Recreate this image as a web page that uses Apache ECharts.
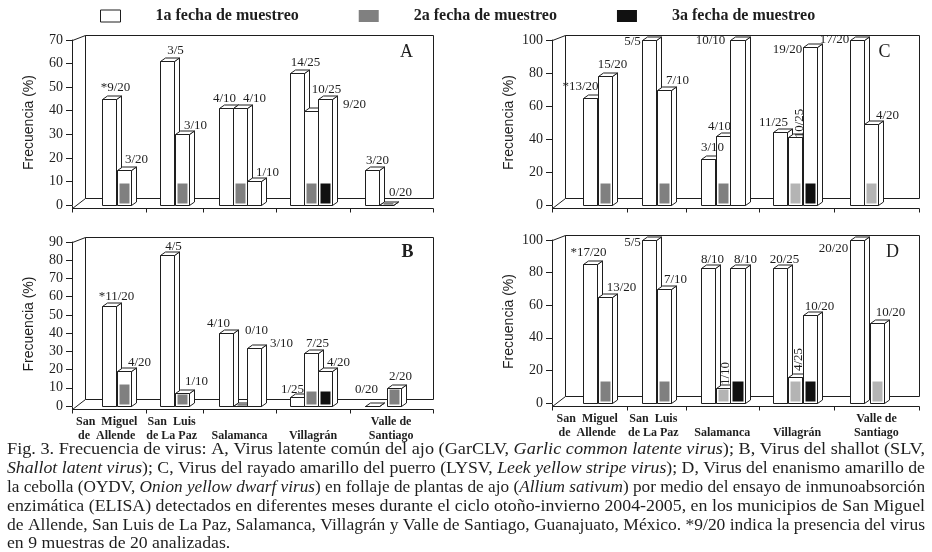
<!DOCTYPE html>
<html><head><meta charset="utf-8">
<script src="https://cdn.jsdelivr.net/npm/echarts@6/dist/echarts.min.js"></script>
<style>html,body{margin:0;padding:0;background:#fff}#c{width:932px;height:552px}</style>
</head><body><div id="c"></div>
<script>
// ---------- data ----------
const GROUPS = ['San  Miguel\nde  Allende', 'San  Luis\nde La Paz', '\nSalamanca', '\nVillagrán', 'Valle de\nSantiago'];
const LEGEND = ['1a fecha de muestreo', '2a fecha de muestreo', '3a fecha de muestreo'];
const Y_NAME = 'Frecuencia (%)';

// Panel A
const A_GROUP = [0,0,1,1,2,2,2,3,3,3,4,4];
const A_SLOT  = [0,1,0,1,0,1,2,0,1,2,0,1];
const A_MARK  = [0,1,0,1,0,1,0,0,1,2,0,1];
const A_VALUE = [45,15,61,30,41,41,10,56,40,45,15,0];
const A_LABEL = ['*9/20','3/20','3/5','3/10','4/10','4/10','1/10','14/25','10/25','9/20','3/20','0/20'];
const A_YMAX = 70, A_YSTEP = 10;

// Panel B
const B_GROUP = [0,0,1,1,2,2,2,3,3,3,4,4];
const B_SLOT  = [0,1,0,1,0,1,2,0,1,2,0,1];
const B_MARK  = [0,1,0,1,0,1,0,0,1,2,0,1];
const B_VALUE = [55,19,83,7,40,0,32,5,29,19,0,10];
const B_LABEL = ['*11/20','4/20','4/5','1/10','4/10','0/10','3/10','1/25','7/25','4/20','0/20','2/20'];
const B_YMAX = 90, B_YSTEP = 10;

// Panel C
const C_GROUP = [0,0,1,1,2,2,2,3,3,3,4,4];
const C_SLOT  = [0,1,0,1,0,1,2,0,1,2,0,1];
const C_MARK  = [0,1,0,1,0,1,0,0,3,2,0,3];
const C_VALUE = [65,78,100,70,28,42,100,44,41,96,100,49];
const C_LABEL = ['*13/20','15/20','5/5','7/10','3/10','4/10','10/10','11/25','10/25','19/20','17/20','4/20'];
const C_YMAX = 100, C_YSTEP = 20;

// Panel D
const D_GROUP = [0,0,1,1,2,2,2,3,3,3,4,4];
const D_SLOT  = [0,1,0,1,0,1,2,0,1,2,0,1];
const D_MARK  = [0,1,0,1,0,3,2,0,3,2,0,3];
const D_VALUE = [85,65,100,70,83,9,83,83,16,54,100,49];
const D_LABEL = ['*17/20','13/20','5/5','7/10','8/10','1/10','8/10','20/25','4/25','10/20','20/20','10/20'];
const D_YMAX = 100, D_YSTEP = 20;

const CAPTION = [
  [['n','Fig. 3. Frecuencia de virus: A, Virus latente común del ajo (GarCLV, '],['i','Garlic common latente virus'],['n','); B, Virus del shallot (SLV,']],
  [['i','Shallot latent virus'],['n','); C, Virus del rayado amarillo del puerro (LYSV, '],['i','Leek yellow stripe virus'],['n','); D, Virus del enanismo amarillo de']],
  [['n','la cebolla (OYDV, '],['i','Onion yellow dwarf virus'],['n',') en follaje de plantas de ajo ('],['i','Allium sativum'],['n',') por medio del ensayo de inmunoabsorción']],
  [['n','enzimática (ELISA) detectados en diferentes meses durante el ciclo otoño-invierno 2004-2005, en los municipios de San Miguel']],
  [['n','de Allende, San Luis de La Paz, Salamanca, Villagrán y Valle de Santiago, Guanajuato, México. *9/20 indica la presencia del virus']],
  [['n','en 9 muestras de 20 analizadas.']]
];

// ---------- layout / style ----------
const INK = '#1e1e1e';
const SERIF = '"Liberation Serif", "DejaVu Serif", serif';
const BAR_W = 0.97, BDX = 5, BDY = 3.5, WDX = 13, WDY = 5;
const GROUP_X = [2.1, 6.12, 10.15, 15.07, 20.27];
const TICK_X = [5.12, 9.1, 14.1, 19.22];
const GROUP_LABEL_X = [2.4, 6.9, 11.6, 16.7, 22.1];
const MARK_COLOR = [null, '#808080', '#111111', '#b4b4b4'];

const A_LPOS = [[13,-12],[19,-11],[15,-11],[20,-9],[5,-10],[21,-10],[20,-9],[15,-11],[22,-22],[36,5],[12,-10],[21,-13]];
const B_LPOS = [[14,-10],[22,-9],[13,-9],[21,-12],[-1,-10],[23,-76],[34,-5],[2,-8],[13,-10],[20,-9],[1,-17],[13,-12]];
const C_LPOS = [[-3,-12],[14,-12],[-10,1],[20,-10],[11,-12],[3,-10],[-20,0],[0,-10],[11,-14,1],[-16,2],[-16,-1],[23,-9]];
const D_LPOS = [[5,-12],[23,-10],[-10,2],[18,-10],[11,-9],[9,-15,1],[15,-9],[11,-9],[10,-18,1],[16,-9],[-17,8],[20,-11]];

const panels = [
  {letter:'A', grid:{left:72, top:40, width:361, height:165}, ymax:A_YMAX, ystep:A_YSTEP,
   group:A_GROUP, slot:A_SLOT, mark:A_MARK, value:A_VALUE, label:A_LABEL, lpos:A_LPOS,
   shift:{}, patchH:{}, groupLabels:false, lo:[-27,12], bold:false},
  {letter:'B', grid:{left:72, top:242, width:361, height:164}, ymax:B_YMAX, ystep:B_YSTEP,
   group:B_GROUP, slot:B_SLOT, mark:B_MARK, value:B_VALUE, label:B_LABEL, lpos:B_LPOS,
   shift:{11:0.56}, patchH:{7:13,8:13,9:13}, groupLabels:true, lo:[-26,10], bold:true},
  {letter:'C', grid:{left:552, top:40, width:367, height:165}, ymax:C_YMAX, ystep:C_YSTEP,
   group:C_GROUP, slot:C_SLOT, mark:C_MARK, value:C_VALUE, label:C_LABEL, lpos:C_LPOS,
   shift:{}, patchH:{}, groupLabels:false, lo:[-35,12], bold:false},
  {letter:'D', grid:{left:552, top:240, width:367, height:163}, ymax:D_YMAX, ystep:D_YSTEP,
   group:D_GROUP, slot:D_SLOT, mark:D_MARK, value:D_VALUE, label:D_LABEL, lpos:D_LPOS,
   shift:{11:0.4}, patchH:{}, groupLabels:true, lo:[-27,12], bold:false}
];

function ln(x1, y1, x2, y2) {
  return {type:'line', shape:{x1, y1, x2, y2}, style:{stroke:INK, lineWidth:1}};
}

function makeFrameRender(p) {
  return function (params, api) {
    const cs = params.coordSys;
    const L = Math.round(cs.x) + 0.5, T = Math.round(cs.y) + 0.5;
    const R = Math.round(cs.x + cs.width) + 0.5, B = Math.round(cs.y + cs.height) + 0.5;
    const bx = L + WDX, by = T - WDY, fy = B - 7, ay = B + 3;
    const kids = [
      ln(L, T, bx, by),
      {type:'polyline', shape:{points:[[bx, fy], [bx, by], [R, by], [R, fy]]}, style:{stroke:INK, lineWidth:1, fill:null}},
      ln(bx, fy, R, fy),
      ln(L, ay, bx, fy),
      ln(L, B, L, ay),
      ln(L, ay, R, ay)
    ];
    [0].concat(TICK_X, [25]).forEach(t => {
      const x = Math.round(api.coord([t, 0])[0]) + 0.5;
      kids.push(ln(x, ay, x, ay + 4));
    });
    kids.push({type:'text', x: R + p.lo[0], y: T + p.lo[1],
      style:{text:p.letter, fontFamily:SERIF, fontSize:18, fontWeight:p.bold ? 'bold' : 'normal',
             fill:INK, align:'center', verticalAlign:'middle'}});
    if (p.groupLabels) {
      GROUPS.forEach((g, k) => {
        const x = api.coord([GROUP_LABEL_X[k], 0])[0];
        kids.push({type:'text', x: x, y: ay + 5,
          style:{text:g, fontFamily:SERIF, fontSize:12, fontWeight:'bold', lineHeight:14,
                 fill:INK, align:'center', verticalAlign:'top'}});
      });
    }
    return {type:'group', children:kids};
  };
}

function makeBarRender(p) {
  return function (params, api) {
    const i = params.dataIndex;
    const g = api.value(0), s = api.value(1), m = api.value(2), v = api.value(3);
    const xl = GROUP_X[g] + s + (p.shift[i] || 0);
    const a = api.coord([xl, v]), b = api.coord([xl + BAR_W, 0]);
    const x0 = Math.round(a[0]) + 0.5, x1 = Math.round(b[0]) + 0.5;
    const yT = Math.round(a[1]) + 0.5, yB = Math.round(b[1]) + 0.5;
    const st = {stroke:INK, lineWidth:1, fill:'#fff'};
    const kids = [];
    kids.push({type:'polygon', shape:{points:[[x1,yT],[x1+BDX,yT-BDY],[x1+BDX,yB-BDY],[x1,yB]]}, style:st});
    kids.push({type:'polygon', shape:{points:[[x0,yT],[x0+BDX,yT-BDY],[x1+BDX,yT-BDY],[x1,yT]]}, style:st});
    kids.push({type:'rect', shape:{x:x0, y:yT, width:x1-x0, height:Math.max(yB-yT, 0)}, style:st});
    if (m) {
      const h = yB - yT;
      const ph = Math.min(p.patchH[i] || 20, h - 3);
      if (ph > 1.5) {
        kids.push({type:'rect', shape:{x:x0+2, y:yB-2-ph, width:x1-x0-4, height:ph},
          style:{fill:MARK_COLOR[m], stroke:null}});
      } else {
        kids.push({type:'line', shape:{x1:x0+4, y1:yT-BDY/2, x2:x1, y2:yT-BDY/2},
          style:{stroke:MARK_COLOR[m], lineWidth:2}});
      }
    }
    const lp = p.lpos[i];
    kids.push({type:'text', x:x0 + lp[0], y:yT + lp[1], rotation: lp[2] ? Math.PI/2 : 0, z2:100,
      style:{text:p.label[i], fontFamily:SERIF, fontSize:13, fill:INK, align:'center', verticalAlign:'middle'}});
    return {type:'group', children:kids};
  };
}

const option = {
  animation:false,
  backgroundColor:'#fff',
  legend:{
    left:95, top:3, itemWidth:20, itemHeight:12, itemGap:60, icon:'rect',
    textStyle:{fontFamily:SERIF, fontSize:16, fontWeight:'bold', color:INK, padding:[0,0,0,30]},
    data:[
      {name:LEGEND[0], itemStyle:{color:'#fff', borderColor:INK, borderWidth:1}},
      {name:LEGEND[1], itemStyle:{color:MARK_COLOR[1], borderWidth:0}},
      {name:LEGEND[2], itemStyle:{color:MARK_COLOR[2], borderWidth:0}}
    ]
  },
  grid:[], xAxis:[], yAxis:[], series:[], graphic:[]
};

panels.forEach((p, k) => {
  option.grid.push(Object.assign({containLabel:false}, p.grid));
  option.xAxis.push({type:'value', gridIndex:k, min:0, max:25, show:false});
  option.yAxis.push({
    type:'value', gridIndex:k, min:0, max:p.ymax, interval:p.ystep,
    name:Y_NAME, nameLocation:'middle', nameGap:36, nameRotate:90,
    nameTextStyle:{fontFamily:'"Liberation Sans", Arial, sans-serif', fontSize:14, color:INK},
    axisLine:{show:true, lineStyle:{color:INK, width:1}},
    axisTick:{show:true, length:6, lineStyle:{color:INK}},
    axisLabel:{fontFamily:SERIF, fontSize:14, color:INK, margin:9},
    splitLine:{show:false}
  });
  option.series.push({
    type:'custom', xAxisIndex:k, yAxisIndex:k, z:1, clip:false, silent:true,
    renderItem:makeFrameRender(p), data:[[0, 0]]
  });
  option.series.push({
    type:'custom', xAxisIndex:k, yAxisIndex:k, z:2, clip:false, silent:true,
    renderItem:makeBarRender(p),
    data:p.value.map((v, i) => [p.group[i], p.slot[i], p.mark[i], v])
  });
});

LEGEND.forEach((n, k) => {
  option.series.push({type:'bar', name:n, xAxisIndex:0, yAxisIndex:0, data:[],
    itemStyle: k === 0 ? {color:'#fff', borderColor:INK, borderWidth:1} : {color:MARK_COLOR[k]}});
});

// caption (justified by horizontal scaling)
const ctx = document.createElement('canvas').getContext('2d');
const CAP_SIZE = 16, CAP_FAM = '"Liberation Serif"';
function measure(segs) {
  let w = 0;
  segs.forEach(([k, t]) => {
    ctx.font = (k === 'i' ? 'italic ' : '') + CAP_SIZE + 'px ' + CAP_FAM;
    w += ctx.measureText(t).width;
  });
  return w;
}
const CAP_Y = [450, 469, 488, 507, 525.5, 544];
const CAP_W = 918;
const scales = CAPTION.map(s => CAP_W / measure(s));
const avg = scales.slice(0, 5).reduce((a, b) => a + b, 0) / 5;
CAPTION.forEach((segs, j) => {
  const text = segs.map(([k, t]) => '{' + k + '|' + t + '}').join('');
  option.graphic.push({
    type:'text', x:7, y:CAP_Y[j], scaleX: j < 5 ? scales[j] : avg, silent:true,
    style:{text, verticalAlign:'middle', fill:INK,
      rich:{
        n:{fontSize:CAP_SIZE, fontFamily:SERIF, fill:INK},
        i:{fontSize:CAP_SIZE, fontFamily:SERIF, fontStyle:'italic', fill:INK}
      }}
  });
});

const chart = echarts.init(document.getElementById('c'), null, {renderer:'canvas'});
chart.setOption(option);
</script>
</body></html>
